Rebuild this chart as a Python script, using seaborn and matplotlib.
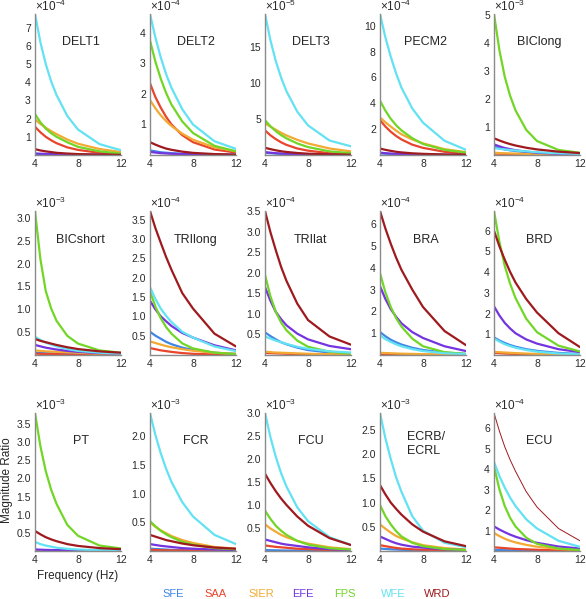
import pandas as pd
import seaborn as sns
import matplotlib.pyplot as plt

FREQ = [4, 4.5, 5, 5.5, 6, 7, 8, 10, 12]
DOFS = ["SFE", "SAA", "SIER", "EFE", "FPS", "WFE", "WRD"]
COLORS = ["#3f86e6", "#e8452c", "#f2aa33", "#7434e0", "#72d626", "#62e2f2", "#9e1a1e"]

# values per muscle, one row per DOF (same order as DOFS), in units of the panel exponent
DELT1 = [[0.06, 0.05, 0.04, 0.035, 0.03, 0.02, 0.015, 0.01, 0.005],
         [1.55, 1.25, 1.0, 0.81, 0.65, 0.42, 0.28, 0.12, 0.05],
         [1.95, 1.71, 1.5, 1.31, 1.15, 0.85, 0.62, 0.33, 0.16],
         [0.08, 0.07, 0.06, 0.05, 0.04, 0.03, 0.02, 0.01, 0.01],
         [2.25, 1.8, 1.45, 1.2, 1.0, 0.7, 0.45, 0.2, 0.08],
         [7.75, 6.2, 5.0, 4.05, 3.3, 2.15, 1.4, 0.6, 0.26],
         [0.32, 0.25, 0.2, 0.16, 0.12, 0.08, 0.05, 0.02, 0.01]]
DELT2 = [[0.15, 0.12, 0.09, 0.075, 0.06, 0.04, 0.03, 0.015, 0.01],
         [2.35, 1.9, 1.55, 1.25, 1.0, 0.65, 0.42, 0.18, 0.08],
         [1.8, 1.53, 1.3, 1.11, 0.95, 0.7, 0.5, 0.25, 0.12],
         [0.1, 0.08, 0.06, 0.05, 0.04, 0.03, 0.02, 0.01, 0.005],
         [3.75, 3.06, 2.5, 2.03, 1.65, 1.1, 0.72, 0.3, 0.12],
         [4.62, 3.85, 3.2, 2.65, 2.2, 1.5, 1.0, 0.45, 0.2],
         [0.42, 0.34, 0.27, 0.21, 0.17, 0.11, 0.07, 0.03, 0.01]]
DELT3 = [[0.3, 0.25, 0.2, 0.16, 0.13, 0.09, 0.06, 0.03, 0.015],
         [3.4, 2.73, 2.2, 1.75, 1.4, 0.9, 0.6, 0.25, 0.1],
         [4.4, 3.92, 3.5, 3.07, 2.7, 2.1, 1.6, 0.9, 0.5],
         [0.4, 0.32, 0.25, 0.2, 0.16, 0.1, 0.07, 0.03, 0.015],
         [4.8, 3.98, 3.3, 2.75, 2.3, 1.6, 1.1, 0.5, 0.25],
         [19.5, 15.9, 13.0, 10.7, 8.8, 6.0, 4.1, 2.0, 1.2],
         [1.0, 0.81, 0.65, 0.52, 0.42, 0.28, 0.18, 0.08, 0.04]]
PECM2 = [[0.12, 0.1, 0.08, 0.065, 0.05, 0.03, 0.02, 0.01, 0.005],
         [2.7, 2.2, 1.8, 1.47, 1.2, 0.8, 0.55, 0.25, 0.1],
         [2.9, 2.53, 2.2, 1.88, 1.6, 1.2, 0.9, 0.45, 0.22],
         [0.18, 0.14, 0.11, 0.09, 0.07, 0.05, 0.03, 0.015, 0.01],
         [4.2, 3.43, 2.8, 2.3, 1.9, 1.3, 0.85, 0.4, 0.18],
         [10.9, 9.1, 7.6, 6.3, 5.2, 3.6, 2.5, 1.1, 0.4],
         [0.5, 0.4, 0.32, 0.25, 0.2, 0.13, 0.09, 0.04, 0.02]]
BICLONG = [[0.3, 0.245, 0.2, 0.167, 0.14, 0.1, 0.07, 0.04, 0.02],
           [0.05, 0.045, 0.04, 0.035, 0.03, 0.02, 0.015, 0.01, 0.005],
           [0.08, 0.07, 0.06, 0.055, 0.05, 0.04, 0.03, 0.02, 0.01],
           [0.38, 0.31, 0.25, 0.21, 0.17, 0.12, 0.08, 0.04, 0.02],
           [5.05, 3.76, 2.8, 2.12, 1.6, 0.9, 0.5, 0.18, 0.08],
           [0.25, 0.22, 0.2, 0.18, 0.16, 0.13, 0.1, 0.06, 0.04],
           [0.6, 0.52, 0.45, 0.39, 0.34, 0.26, 0.2, 0.12, 0.07]]
BICSHORT = [[0.05, 0.045, 0.04, 0.035, 0.03, 0.02, 0.02, 0.01, 0.01],
            [0.03, 0.025, 0.02, 0.02, 0.02, 0.01, 0.01, 0.01, 0.005],
            [0.1, 0.09, 0.08, 0.075, 0.07, 0.06, 0.05, 0.03, 0.02],
            [0.22, 0.19, 0.16, 0.14, 0.12, 0.09, 0.07, 0.04, 0.03],
            [3.15, 2.1, 1.4, 1.02, 0.75, 0.42, 0.25, 0.1, 0.05],
            [0.4, 0.33, 0.27, 0.23, 0.19, 0.13, 0.09, 0.05, 0.03],
            [0.35, 0.31, 0.28, 0.25, 0.22, 0.17, 0.13, 0.08, 0.05]]
TRILONG = [[0.6, 0.5, 0.42, 0.34, 0.28, 0.19, 0.13, 0.06, 0.03],
           [0.18, 0.15, 0.12, 0.1, 0.08, 0.05, 0.03, 0.015, 0.01],
           [0.35, 0.31, 0.27, 0.23, 0.2, 0.15, 0.11, 0.06, 0.03],
           [1.4, 1.18, 1.0, 0.87, 0.75, 0.57, 0.45, 0.25, 0.12],
           [1.65, 1.25, 0.95, 0.72, 0.55, 0.3, 0.17, 0.06, 0.02],
           [1.75, 1.45, 1.2, 1.01, 0.85, 0.6, 0.45, 0.22, 0.1],
           [3.72, 3.28, 2.9, 2.53, 2.2, 1.6, 1.2, 0.55, 0.22]]
TRILAT = [[0.55, 0.46, 0.38, 0.31, 0.26, 0.18, 0.12, 0.06, 0.03],
          [0.05, 0.045, 0.04, 0.035, 0.03, 0.02, 0.015, 0.01, 0.005],
          [0.08, 0.07, 0.06, 0.055, 0.05, 0.04, 0.03, 0.02, 0.01],
          [1.65, 1.32, 1.05, 0.87, 0.72, 0.52, 0.38, 0.22, 0.14],
          [1.95, 1.43, 1.05, 0.79, 0.6, 0.35, 0.2, 0.08, 0.03],
          [0.45, 0.4, 0.35, 0.31, 0.27, 0.2, 0.15, 0.09, 0.06],
          [3.5, 2.99, 2.55, 2.14, 1.8, 1.25, 0.85, 0.45, 0.25]]
BRA = [[1.05, 0.86, 0.7, 0.58, 0.48, 0.33, 0.23, 0.11, 0.05],
       [0.05, 0.045, 0.04, 0.035, 0.03, 0.02, 0.015, 0.01, 0.005],
       [0.1, 0.09, 0.08, 0.07, 0.06, 0.05, 0.04, 0.02, 0.01],
       [3.15, 2.57, 2.1, 1.75, 1.45, 1.05, 0.78, 0.4, 0.18],
       [3.75, 2.87, 2.2, 1.69, 1.3, 0.75, 0.4, 0.13, 0.05],
       [0.9, 0.73, 0.6, 0.49, 0.4, 0.27, 0.18, 0.08, 0.04],
       [6.6, 5.8, 5.1, 4.46, 3.9, 3.0, 2.2, 1.1, 0.45]]
BRD = [[0.85, 0.7, 0.58, 0.48, 0.4, 0.28, 0.2, 0.1, 0.05],
       [0.1, 0.085, 0.07, 0.06, 0.05, 0.04, 0.03, 0.02, 0.01],
       [0.15, 0.135, 0.12, 0.105, 0.09, 0.07, 0.05, 0.03, 0.02],
       [2.35, 1.91, 1.55, 1.28, 1.05, 0.75, 0.55, 0.28, 0.14],
       [6.95, 5.47, 4.3, 3.44, 2.75, 1.75, 1.1, 0.45, 0.17],
       [0.8, 0.65, 0.52, 0.43, 0.35, 0.24, 0.16, 0.07, 0.03],
       [6.0, 5.25, 4.6, 4.01, 3.5, 2.7, 2.05, 1.05, 0.38]]
PT = [[0.03, 0.027, 0.025, 0.022, 0.02, 0.015, 0.01, 0.008, 0.005],
      [0.02, 0.017, 0.015, 0.012, 0.01, 0.01, 0.008, 0.005, 0.003],
      [0.02, 0.017, 0.015, 0.012, 0.01, 0.01, 0.008, 0.005, 0.003],
      [0.04, 0.035, 0.03, 0.027, 0.025, 0.02, 0.015, 0.01, 0.008],
      [3.8, 2.89, 2.2, 1.69, 1.3, 0.72, 0.42, 0.15, 0.07],
      [0.25, 0.19, 0.15, 0.12, 0.09, 0.06, 0.04, 0.02, 0.01],
      [0.55, 0.46, 0.38, 0.32, 0.27, 0.19, 0.14, 0.08, 0.05]]
FCR = [[0.04, 0.035, 0.03, 0.025, 0.02, 0.015, 0.01, 0.008, 0.005],
       [0.02, 0.017, 0.015, 0.012, 0.01, 0.01, 0.008, 0.005, 0.003],
       [0.5, 0.42, 0.36, 0.31, 0.26, 0.19, 0.14, 0.07, 0.04],
       [0.12, 0.105, 0.09, 0.08, 0.07, 0.05, 0.04, 0.025, 0.015],
       [0.52, 0.43, 0.35, 0.29, 0.24, 0.16, 0.11, 0.05, 0.03],
       [2.4, 2.02, 1.7, 1.43, 1.2, 0.85, 0.6, 0.28, 0.12],
       [0.28, 0.25, 0.22, 0.19, 0.17, 0.13, 0.1, 0.06, 0.04]]
FCU = [[0.02, 0.017, 0.015, 0.012, 0.01, 0.01, 0.008, 0.005, 0.003],
       [0.12, 0.105, 0.09, 0.08, 0.07, 0.05, 0.04, 0.02, 0.01],
       [0.58, 0.49, 0.42, 0.35, 0.3, 0.22, 0.16, 0.08, 0.04],
       [0.25, 0.22, 0.19, 0.16, 0.14, 0.11, 0.08, 0.04, 0.02],
       [0.88, 0.7, 0.55, 0.44, 0.35, 0.22, 0.14, 0.06, 0.03],
       [3.0, 2.48, 2.05, 1.69, 1.4, 0.95, 0.65, 0.3, 0.13],
       [1.68, 1.48, 1.3, 1.14, 1.0, 0.75, 0.55, 0.28, 0.13]]
ECRB = [[0.05, 0.042, 0.035, 0.03, 0.025, 0.02, 0.015, 0.008, 0.005],
        [0.12, 0.1, 0.08, 0.063, 0.05, 0.035, 0.025, 0.012, 0.006],
        [0.55, 0.46, 0.38, 0.31, 0.26, 0.18, 0.12, 0.06, 0.03],
        [0.3, 0.25, 0.2, 0.16, 0.13, 0.09, 0.07, 0.035, 0.02],
        [0.95, 0.72, 0.55, 0.41, 0.3, 0.17, 0.1, 0.04, 0.02],
        [2.85, 2.33, 1.9, 1.52, 1.22, 0.72, 0.42, 0.17, 0.08],
        [1.36, 1.17, 1.0, 0.87, 0.75, 0.55, 0.4, 0.2, 0.1]]
ECU = [[0.05, 0.045, 0.04, 0.035, 0.03, 0.02, 0.015, 0.01, 0.005],
       [0.18, 0.16, 0.14, 0.12, 0.1, 0.08, 0.06, 0.03, 0.02],
       [0.88, 0.73, 0.6, 0.5, 0.42, 0.3, 0.21, 0.1, 0.05],
       [1.2, 1.05, 0.92, 0.8, 0.7, 0.53, 0.4, 0.22, 0.12],
       [4.15, 3.02, 2.2, 1.62, 1.2, 0.65, 0.35, 0.12, 0.05],
       [4.35, 3.67, 3.1, 2.61, 2.2, 1.55, 1.1, 0.5, 0.2],
       [6.75, 5.87, 5.1, 4.46, 3.9, 2.9, 2.15, 1.1, 0.5]]

NAMES = ["DELT1", "DELT2", "DELT3", "PECM2", "BIClong",
         "BICshort", "TRIlong", "TRIlat", "BRA", "BRD",
         "PT", "FCR", "FCU", "ECRB/\nECRL", "ECU"]
VALUES = [DELT1, DELT2, DELT3, PECM2, BICLONG,
          BICSHORT, TRILONG, TRILAT, BRA, BRD,
          PT, FCR, FCU, ECRB, ECU]
EXPONENTS = [-4, -4, -5, -4, -3,
             -3, -4, -4, -4, -4,
             -3, -3, -3, -3, -4]
YTICKS = [[1, 2, 3, 4, 5, 6, 7], [1, 2, 3, 4], [5, 10, 15], [2, 4, 6, 8, 10], [1, 2, 3, 4, 5],
          [0.5, 1.0, 1.5, 2.0, 2.5, 3.0], [0.5, 1.0, 1.5, 2.0, 2.5, 3.0, 3.5],
          [0.5, 1.0, 1.5, 2.0, 2.5, 3.0, 3.5], [1, 2, 3, 4, 5, 6], [1, 2, 3, 4, 5, 6],
          [0.5, 1.0, 1.5, 2.0, 2.5, 3.0, 3.5], [0.5, 1.0, 1.5, 2.0],
          [0.5, 1.0, 1.5, 2.0, 2.5, 3.0], [0.5, 1.0, 1.5, 2.0, 2.5], [1, 2, 3, 4, 5, 6]]

sns.set_style("white")
plt.rcParams['font.family'] = ['Liberation Sans', 'DejaVu Sans']
plt.rcParams['mathtext.fontset'] = 'custom'
plt.rcParams['mathtext.rm'] = 'Liberation Sans'
plt.rcParams['mathtext.it'] = 'Liberation Sans'

W, H = 586, 599
fig = plt.figure(figsize=(W / 100, H / 100), dpi=100)

col_left = [35, 150, 265, 380, 494]
row_box = [(14, 155), (211, 355), (413, 551)]   # (top, bottom) in pixels
axw = 86

for i, name in enumerate(NAMES):
    r, c = divmod(i, 5)
    top, bot = row_box[r]
    ax = fig.add_axes([col_left[c] / W, 1 - bot / H, axw / W, (bot - top) / H])
    vals = VALUES[i]
    for k, dof in enumerate(DOFS):
        lw = 1.6
        if name == "ECU" and dof == "WRD":
            lw = 0.7
        sns.lineplot(x=FREQ, y=vals[k], color=COLORS[k], lw=lw, ax=ax)
    ymax = max(max(v) for v in vals)
    ax.set_xlim(4, 12)
    ax.set_ylim(0, ymax)
    ax.set_xticks([4, 8, 12])
    ax.set_yticks(YTICKS[i])
    if isinstance(YTICKS[i][0], float):
        ax.set_yticklabels([f"{t:.1f}" for t in YTICKS[i]])
    ax.tick_params(labelsize=7.5, length=1.5, direction='in', pad=3, colors='#2a2a2a')
    sns.despine(ax=ax)
    for s in ["left", "bottom"]:
        ax.spines[s].set_color('#8a8a8a')
        ax.spines[s].set_linewidth(1.0)
    ax.text(0.0, 1.0, r"$\times10^{%d}$" % EXPONENTS[i], transform=ax.transAxes,
            fontsize=8.5, ha='left', va='bottom', color='#2a2a2a')
    if "\n" in name:
        ax.text(0.53, 0.87, name, transform=ax.transAxes, fontsize=9,
                ha='center', va='top', multialignment='left')
    else:
        ax.text(0.53, 0.80, name, transform=ax.transAxes, fontsize=9,
                ha='center', va='center')

fig.text(7 / W, 1 - 480 / H, "Magnitude Ratio", rotation=90, fontsize=8.5,
         ha='center', va='center')
fig.text(78 / W, 1 - 576 / H, "Frequency (Hz)", fontsize=8.5, ha='center', va='center')

legend_x = [173, 216, 261, 303, 345, 393, 437]
for k, dof in enumerate(DOFS):
    fig.text(legend_x[k] / W, 1 - 594 / H, dof, color=COLORS[k], fontsize=8,
             ha='center', va='center')

fig.savefig("out.png", dpi=100)
